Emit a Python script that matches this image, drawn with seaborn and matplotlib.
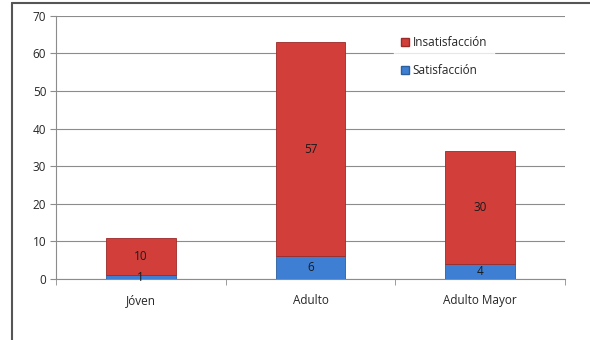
import matplotlib
matplotlib.use("Agg")
import matplotlib.pyplot as plt
import matplotlib.patches as mpatches
from matplotlib.lines import Line2D
import seaborn as sns
import pandas as pd

# Datos del gráfico
grupos = ["Jóven", "Adulto", "Adulto Mayor"]
satisfaccion = [1, 6, 4]
insatisfaccion = [10, 57, 30]

rojo = "#d23f3b"
azul = "#3e7fd3"

sns.set_style("white")
plt.rcParams["font.family"] = ["Open Sans", "DejaVu Sans"]

df = pd.DataFrame({"grupo": grupos, "sat": satisfaccion, "insat": insatisfaccion})

fig = plt.figure(figsize=(5.9, 3.4), dpi=100)
fig.patch.set_linewidth(0)
fig.patch.set_edgecolor("none")
ax = fig.add_axes([0.0949, 0.1794, 0.8627, 0.7744])

sns.barplot(data=df, x="grupo", y="sat", color=azul, width=0.41, saturation=1,
            edgecolor="#2c5f9e", linewidth=0.6, ax=ax, zorder=3)
sns.barplot(data=df, x="grupo", y="insat", bottom=df["sat"], color=rojo, width=0.41,
            saturation=1, edgecolor="#9c2a27", linewidth=0.6, ax=ax, zorder=3)

# etiquetas de valores
for i, (s, n) in enumerate(zip(satisfaccion, insatisfaccion)):
    ax.text(i, s / 2, str(s), ha="center", va="center", fontsize=8.5, color="#1a1a1a", zorder=4)
    ax.text(i, s + n / 2, str(n), ha="center", va="center", fontsize=8.5, color="#1a1a1a", zorder=4)

ax.set_ylim(0, 70)
ax.set_xlim(-0.5, 2.5)
ax.set_yticks(range(0, 71, 10))
ax.yaxis.grid(True, color="#8c8c8c", linewidth=0.8, zorder=0)
ax.set_axisbelow(True)
ax.set_xlabel("")
ax.set_ylabel("")

for side in ["top", "right"]:
    ax.spines[side].set_visible(False)
for side in ["left", "bottom"]:
    ax.spines[side].set_color("#8c8c8c")
    ax.spines[side].set_linewidth(0.8)

ax.tick_params(axis="y", which="major", length=4, color="#8c8c8c", labelsize=8.5, left=True, pad=3)
ax.tick_params(axis="x", which="major", length=0, labelsize=8.5, pad=11)
ax.set_xticks([-0.5, 0.5, 1.5, 2.5], minor=True)
ax.tick_params(axis="x", which="minor", length=4, color="#8c8c8c", bottom=True)

handles = [mpatches.Patch(facecolor=rojo, edgecolor="#9c2a27", label="Insatisfacción"),
           mpatches.Patch(facecolor=azul, edgecolor="#2c5f9e", label="Satisfacción")]
leg = ax.legend(handles=handles, loc="upper left", bbox_to_anchor=(0.652, 0.972),
                frameon=True, fontsize=8.5, handlelength=0.7, handleheight=0.7,
                handletextpad=0.3, labelspacing=1.25, borderpad=0.6, fancybox=False)
leg.get_frame().set_facecolor("white")
leg.get_frame().set_edgecolor("white")
leg.set_zorder(5)

# marco exterior del gráfico (solo se ven el borde izquierdo y superior)
x0 = 12 / 590
y0 = 1 - 3 / 340
fig.add_artist(Line2D([x0, x0], [0, y0], transform=fig.transFigure,
                      color="#555555", linewidth=1.5))
fig.add_artist(Line2D([x0, 1], [y0, y0], transform=fig.transFigure,
                      color="#555555", linewidth=1.5))

fig.savefig("out.png", dpi=100)
